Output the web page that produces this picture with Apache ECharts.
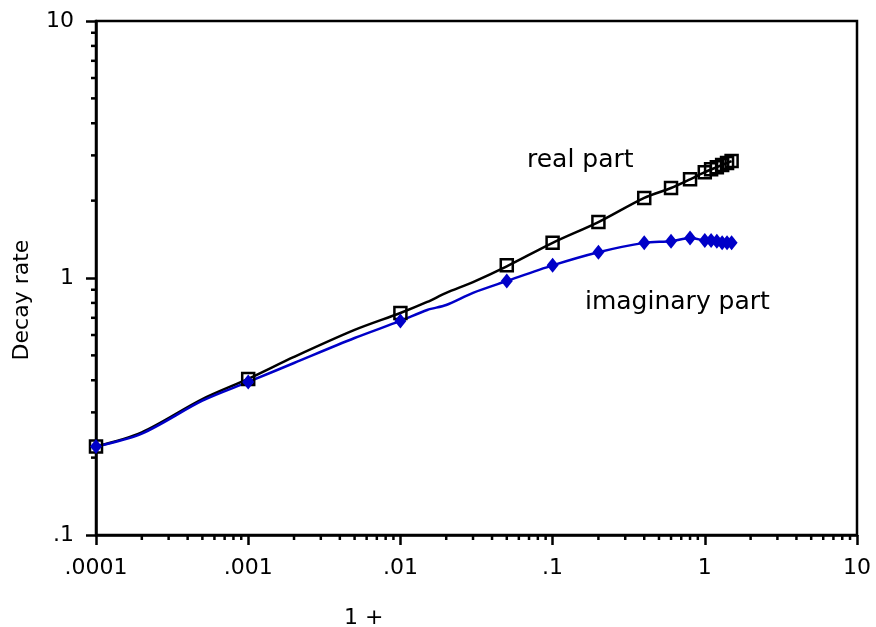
<!DOCTYPE html>
<html>
<head>
<meta charset="utf-8">
<script src="https://cdn.jsdelivr.net/npm/echarts@6/dist/echarts.min.js"></script>
<style>html,body{margin:0;padding:0;background:#fff}#c{width:876px;height:627px}</style>
</head>
<body>
<div id="c"></div>
<script>
// Marker positions (x = 1 + ..., y = decay rate)
const xMarkers = [0.0001, 0.001, 0.01, 0.05, 0.1, 0.2, 0.4, 0.6, 0.8, 1.0, 1.1, 1.2, 1.3, 1.4, 1.5];
const realMarkers = [0.221, 0.405, 0.731, 1.12, 1.37, 1.65, 2.05, 2.24, 2.42, 2.58, 2.65, 2.70, 2.75, 2.80, 2.85];
const imagMarkers = [0.221, 0.394, 0.681, 0.973, 1.12, 1.26, 1.37, 1.39, 1.43, 1.40, 1.40, 1.39, 1.37, 1.37, 1.37];
// Curve samples
const curveX = [0.0001, 0.0002, 0.0005, 0.001, 0.002, 0.005, 0.01, 0.015, 0.02, 0.03, 0.05, 0.1, 0.2, 0.4, 0.6, 0.8, 1.0, 1.2, 1.5];
const realCurve = [0.221, 0.251, 0.338, 0.405, 0.493, 0.628, 0.731, 0.807, 0.875, 0.964, 1.11, 1.37, 1.65, 2.05, 2.24, 2.42, 2.58, 2.70, 2.85];
const imagCurve = [0.221, 0.248, 0.333, 0.394, 0.467, 0.584, 0.681, 0.751, 0.785, 0.875, 0.973, 1.12, 1.26, 1.37, 1.39, 1.43, 1.40, 1.39, 1.37];
// Tick labels
const xTickLabels = {'-4': '.0001', '-3': '.001', '-2': '.01', '-1': '.1', '0': '1', '1': '10'};
const yTickLabels = {'-1': '.1', '0': '1', '1': '10'};
const xMinorTicks = [];
const yMinorTicks = [];
[-4, -3, -2, -1, 0].forEach(function (e) { for (let m = 2; m <= 9; m++) xMinorTicks.push(m * Math.pow(10, e)); });
[-1, 0].forEach(function (e) { for (let m = 2; m <= 9; m++) yMinorTicks.push(m * Math.pow(10, e)); });

const FONT = 'DejaVu Sans';
const BLUE = '#0000c8';

const chart = echarts.init(document.getElementById('c'), null, {renderer: 'canvas'});
function lbl(map) {
  return function (v) { const e = Math.round(Math.log10(v)); return map[String(e)] !== undefined ? map[String(e)] : ''; };
}
const option = {
  animation: false,
  backgroundColor: '#fff',
  grid: {left: 96, right: 19, top: 21, bottom: 92, show: true, borderColor: '#000', borderWidth: 2.5, backgroundColor: 'transparent'},
  xAxis: {
    type: 'log', logBase: 10, min: 0.0001, max: 10,
    axisLine: {lineStyle: {color: '#000', width: 2.5}},
    axisTick: {inside: false, length: 10, lineStyle: {color: '#000', width: 2.5}},
    axisLabel: {formatter: lbl(xTickLabels), color: '#000', fontFamily: FONT, fontSize: 22, margin: 22},
    splitLine: {show: false}, minorTick: {show: false}, minorSplitLine: {show: false}
  },
  yAxis: {
    type: 'log', logBase: 10, min: 0.1, max: 10,
    axisLine: {lineStyle: {color: '#000', width: 2.5}},
    axisTick: {inside: false, length: 10, lineStyle: {color: '#000', width: 2.5}},
    axisLabel: {formatter: lbl(yTickLabels), color: '#000', fontFamily: FONT, fontSize: 22, margin: 22},
    splitLine: {show: false}, minorTick: {show: false}, minorSplitLine: {show: false}
  },
  graphic: [
    {type: 'text', left: 344, top: 607, style: {text: '1 +', fontFamily: FONT, fontSize: 22, fill: '#000'}},
    {type: 'text', x: 22, y: 300, rotation: Math.PI / 2, style: {text: 'Decay rate', fontFamily: FONT, fontSize: 22, fill: '#000', align: 'center', verticalAlign: 'middle'}},
    {type: 'text', left: 527, top: 148, style: {text: 'real part', fontFamily: FONT, fontSize: 25, fill: '#000'}},
    {type: 'text', left: 585, top: 290, style: {text: 'imaginary part', fontFamily: FONT, fontSize: 25, fill: '#000'}}
  ],
  series: [
    {
      type: 'custom', clip: false, silent: true, z: 1,
      data: xMinorTicks.map(function (v) { return [v]; }),
      renderItem: function (params, api) {
        const p = api.coord([api.value(0), 0.1]);
        return {type: 'line', shape: {x1: p[0], y1: p[1], x2: p[0], y2: p[1] + 5}, style: {stroke: '#000', lineWidth: 2.5}};
      },
      encode: {x: 0}
    },
    {
      type: 'custom', clip: false, silent: true, z: 1,
      data: yMinorTicks.map(function (v) { return [0.0001, v]; }),
      renderItem: function (params, api) {
        const p = api.coord([0.0001, api.value(1)]);
        return {type: 'line', shape: {x1: p[0] - 5, y1: p[1], x2: p[0], y2: p[1]}, style: {stroke: '#000', lineWidth: 2.5}};
      },
      encode: {x: 0, y: 1}
    },
    {
      type: 'line', data: curveX.map(function (x, i) { return [x, realCurve[i]]; }),
      smooth: 0.3, showSymbol: false, symbol: 'none',
      lineStyle: {color: '#000', width: 2.5}, z: 2
    },
    {
      type: 'line', data: curveX.map(function (x, i) { return [x, imagCurve[i]]; }),
      smooth: 0.3, showSymbol: false, symbol: 'none',
      lineStyle: {color: BLUE, width: 2.5}, z: 2
    },
    {
      type: 'scatter', data: xMarkers.map(function (x, i) { return [x, realMarkers[i]]; }),
      symbol: 'rect', symbolSize: 12,
      itemStyle: {color: 'rgba(0,0,0,0)', borderColor: '#000', borderWidth: 2.5, opacity: 1}, z: 3
    },
    {
      type: 'scatter', data: xMarkers.map(function (x, i) { return [x, imagMarkers[i]]; }),
      symbol: 'diamond', symbolSize: [12, 15],
      itemStyle: {color: BLUE, opacity: 1}, z: 4
    }
  ]
};
chart.setOption(option);
</script>
</body>
</html>
